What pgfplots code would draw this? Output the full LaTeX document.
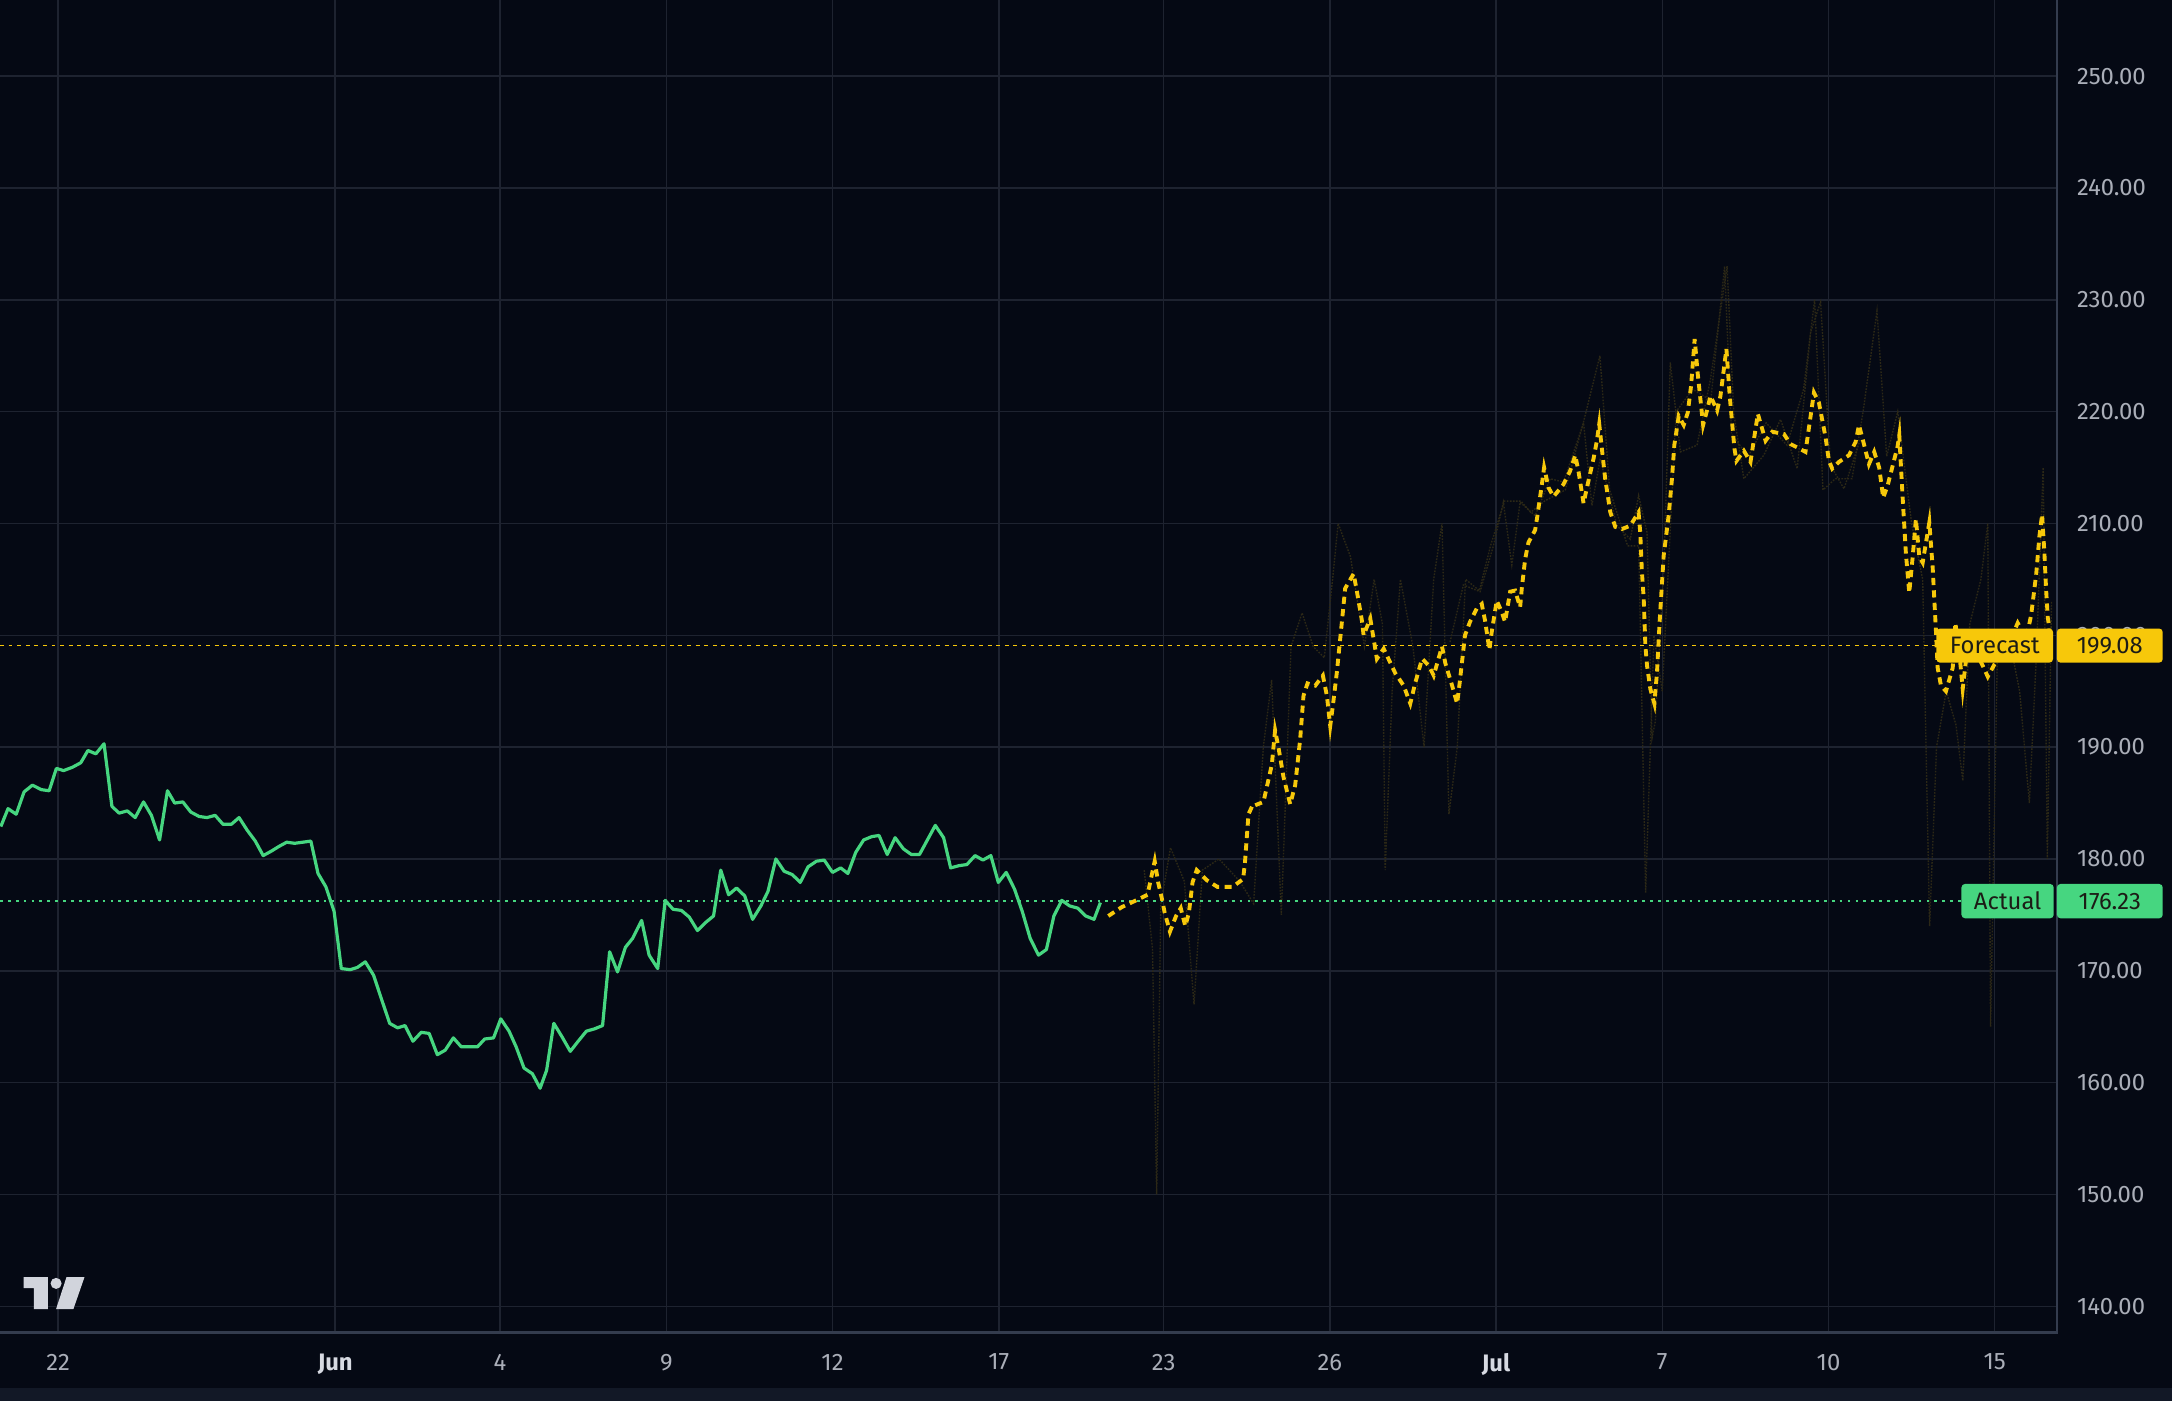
\documentclass[border=0pt]{standalone}
\usepackage{fontspec}
\setmainfont{Fira Sans}
\usepackage{pgfplots}
\pgfplotsset{compat=1.18}
\definecolor{bgcol}{RGB}{5,9,20}
\definecolor{bandcol}{RGB}{18,24,38}
\definecolor{gridcol}{RGB}{30,35,48}
\definecolor{axiscol}{RGB}{52,60,78}
\definecolor{ticktext}{RGB}{170,174,184}
\definecolor{monthtext}{RGB}{215,218,226}
\definecolor{tvgreen}{RGB}{70,214,128}
\definecolor{tvyellow}{RGB}{247,200,10}
\definecolor{faintcol}{RGB}{44,40,22}
\definecolor{boxtext}{RGB}{28,28,22}
\definecolor{logocol}{RGB}{209,212,220}
\begin{document}
\begin{tikzpicture}[x=0.5pt,y=0.5pt]
\useasboundingbox (0,-49) rectangle (1568,962);
\fill[bgcol] (-10,-60) rectangle (1580,975);
\fill[bandcol] (-10,-60) rectangle (1580,-40);
\begin{axis}[
 at={(0,0)}, anchor=south west,
 scale only axis, width=742.5pt, height=481pt,
 xmin=0, xmax=1485, ymin=137.65, ymax=256.81,
 axis line style={draw=none},
 clip=false,
 xtick={42,242,361,481,601,721,840,960,1080,1200,1320,1440},
 xticklabels={22,{\textcolor{monthtext}{\bfseries Jun}},4,9,12,17,23,26,{\textcolor{monthtext}{\bfseries Jul}},7,10,15},
 ytick={140,150,160,170,180,190,200,210,220,230,240,250},
 yticklabel pos=right,
 major tick length=0pt,
 grid=major,
 major grid style={draw=gridcol, line width=0.55pt},
 xticklabel style={font=\fontsize{8.6}{10}\selectfont, text=ticktext, anchor=north, inner sep=0pt, yshift=-7.5pt},
 yticklabel style={font=\fontsize{8.6}{10}\selectfont, text=ticktext, anchor=west, inner sep=0pt, xshift=7pt},
 /pgf/number format/fixed,
 /pgf/number format/fixed zerofill,
 /pgf/number format/precision=2,
 /pgf/number format/assume math mode=true,
]
% faint forecast bands
\addplot[faintcol, line width=0.5pt, dash pattern=on 0.6pt off 0.5pt] coordinates {
(826,179) (832,172) (835,150) (838,176) (845,181) (855,178) (862,167) (868,179) (880,180) (895,178) (905,176) (912,190) (918,196) (925,175) (932,199) (940,202) (948,199) (956,198) (962,205) (966,210) (975,207) (985,199) (992,205) (998,201) (1000,179) (1005,195) (1011,205) (1020,199) (1028,190) (1035,205) (1041,210) (1046,184) (1052,190) (1058,205) (1068,204) (1076,208) (1086,212) (1098,212) (1105,211) (1115,212) (1130,213) (1143,219) (1155,225) (1162,213) (1175,208) (1183,208) (1188,177) (1194,200) (1200,195) (1210,220) (1222,222) (1235,221) (1245,233) (1250,218) (1262,216) (1275,219) (1290,217) (1302,222) (1310,230) (1316,213) (1325,214) (1337,214) (1345,220) (1355,229) (1362,216) (1370,220) (1380,210) (1388,205) (1393,174) (1398,190) (1405,195) (1412,192) (1417,187) (1422,201) (1430,205) (1435,210) (1437,165) (1442,199) (1450,200) (1458,195) (1465,185) (1470,198) (1475,215) (1478,180) (1481,203)
};
\addplot[faintcol, line width=0.5pt, dash pattern=on 0.6pt off 0.5pt] coordinates {
(1046.8,199.4) (1056.4,204.5) (1068.5,203.9) (1078.1,208.0) (1085.3,211.9) (1091.4,206.3) (1097.4,211.9) (1108.2,210.7) (1119.1,214.0) (1128.7,213.7) (1143.2,219.0) (1149.2,211.6) (1155.2,215.8) (1160.0,213.4) (1167.3,209.8) (1176.9,208.6) (1182.9,212.5) (1189.0,209.2) (1192.6,190.8) (1195.0,192.3) (1201.0,205.7) (1205.8,224.4) (1213.1,216.4) (1225.1,217.0) (1234.8,222.9) (1246.8,233.0) (1251.6,219.9) (1258.9,214.0) (1273.3,216.1) (1285.4,219.3) (1297.4,214.9) (1307.1,227.1) (1314.3,229.8) (1321.5,215.2) (1331.2,213.1) (1343.2,217.6)
};
% reference lines
\addplot[tvyellow, line width=0.6pt, dash pattern=on 1.4pt off 1.7pt] coordinates {(0,199.08) (1398,199.08)};
\addplot[tvgreen, line width=0.6pt, dash pattern=on 1pt off 1.85pt] coordinates {(0,176.23) (1416,176.23)};
% actual
\addplot[tvgreen, line width=1.15pt, line join=round] coordinates {
(0.6,182.9) (5.8,184.5) (11.7,184.0) (17.4,186.0) (23.4,186.6) (29.8,186.2) (35.5,186.1) (40.7,188.1) (45.9,187.9) (52.3,188.2) (58.3,188.6) (63.5,189.7) (69.2,189.4) (75.1,190.3) (80.8,184.7) (86.0,184.1) (91.9,184.3) (97.6,183.7) (103.6,185.1) (109.3,183.9) (115.2,181.7) (120.9,186.1) (126.1,185.0) (132.0,185.1) (137.7,184.2) (143.7,183.8) (149.4,183.7) (155.3,183.9) (161.0,183.1) (167.0,183.1) (172.6,183.7) (178.3,182.6) (184.3,181.6) (190.0,180.3) (195.9,180.7) (201.1,181.1) (207.0,181.5) (212.7,181.4) (218.7,181.5) (224.4,181.6) (229.6,178.7) (235.3,177.5) (241.2,175.3) (246.4,170.2) (252.8,170.1) (258.0,170.3) (263.7,170.8) (269.7,169.6) (275.6,167.4) (281.3,165.3) (287.0,164.9) (292.4,165.1) (298.1,163.7) (304.1,164.5) (309.8,164.4) (315.7,162.5) (321.4,162.9) (327.3,164.0) (333.0,163.2) (339.0,163.2) (344.7,163.2) (349.9,163.9) (356.3,164.0) (361.5,165.7) (367.5,164.6) (372.6,163.2) (378.3,161.3) (384.3,160.8) (389.9,159.5) (394.6,161.1) (399.8,165.3) (405.7,164.1) (411.7,162.8) (417.4,163.7) (423.3,164.6) (429.0,164.8) (435.0,165.1) (440.1,171.7) (445.8,169.9) (451.5,172.1) (456.7,172.9) (463.2,174.5) (468.6,171.4) (474.8,170.2) (480.2,176.3) (485.9,175.5) (491.9,175.4) (497.6,174.8) (503.5,173.6) (509.2,174.3) (515.1,174.9) (520.3,179.0) (526.0,176.8) (531.7,177.4) (537.6,176.7) (543.3,174.6) (549.3,175.8) (554.4,177.1) (560.1,180.0) (566.1,178.9) (572.0,178.6) (577.7,177.9) (583.4,179.3) (589.4,179.8) (595.0,179.9) (601.0,178.8) (606.9,179.2) (612.1,178.7) (617.8,180.6) (623.5,181.7) (629.4,182.0) (634.6,182.1) (640.5,180.4) (646.2,181.9) (652.2,180.9) (657.9,180.4) (663.8,180.4) (669.5,181.7) (675.2,183.0) (681.2,181.9) (686.3,179.2) (692.3,179.4) (698.0,179.5) (703.9,180.3) (709.6,179.9) (715.3,180.3) (720.7,177.9) (726.4,178.8) (732.4,177.3) (738.0,175.3) (743.7,172.9) (749.7,171.4) (755.4,171.9) (760.8,174.9) (766.5,176.3) (772.2,175.8) (778.1,175.6) (783.8,174.9) (789.8,174.6) (794.4,176.1)
};
% forecast
\addplot[tvyellow, line width=1.4pt, dash pattern=on 2.6pt off 1.9pt] coordinates {
(800.1,174.9) (809.9,175.7) (820.2,176.3) (828.4,176.8) (833.6,179.8) (836.1,177.9) (838.7,176.5) (840.8,175.2) (844.6,173.5) (849.0,174.9) (852.4,175.6) (855.7,174.0) (858.3,175.2) (860.9,177.9) (863.9,179.0) (871.2,178.1) (878.9,177.5) (889.7,177.5) (897.4,178.2) (898.7,179.6) (901.3,184.0) (904.6,184.9) (906.1,184.8) (912.1,185.1) (918.1,188.4) (920.5,191.5) (922.9,190.0) (926.6,187.3) (931.4,184.9) (935.0,186.6) (938.6,190.7) (941.0,194.6) (943.9,195.7) (949.5,195.5) (955.0,196.4) (957.9,194.6) (960.3,191.9) (962.2,193.7) (965.1,196.7) (968.0,200.3) (971.1,204.2) (977.2,205.5) (979.6,203.9) (983.2,201.3) (984.4,200.0) (989.2,201.5) (994.0,197.9) (998.9,198.8) (1007.3,196.6) (1013.3,195.5) (1018.1,193.9) (1021.8,195.8) (1026.6,197.9) (1031.4,197.3) (1035.0,196.4) (1041.0,199.0) (1043.4,197.5) (1048.3,195.5) (1051.9,193.9) (1053.8,195.8) (1057.6,200.0) (1061.2,201.2) (1066.1,202.4) (1069.7,202.8) (1072.1,201.3) (1075.2,198.7) (1076.9,200.3) (1080.5,203.1) (1084.1,202.1) (1086.5,201.2) (1090.2,203.9) (1093.8,204.0) (1097.4,202.5) (1098.6,204.2) (1101.0,206.8) (1103.4,208.3) (1108.2,209.4) (1109.9,210.7) (1113.1,213.5) (1114.7,215.0) (1117.9,213.2) (1121.5,212.4) (1128.7,213.5) (1133.5,214.7) (1137.2,216.1) (1139.6,214.6) (1143.2,211.8) (1145.6,213.2) (1150.4,215.8) (1152.8,217.4) (1154.5,218.9) (1156.4,216.7) (1158.8,214.0) (1162.5,211.0) (1166.1,209.7) (1170.9,209.5) (1176.9,209.8) (1182.9,211.0) (1184.1,209.2) (1185.3,205.7) (1186.6,203.3) (1187.8,199.1) (1189.0,197.3) (1191.4,195.2) (1194.3,193.9) (1196.2,196.7) (1198.1,201.2) (1201.0,207.1) (1204.6,210.7) (1207.0,214.0) (1208.7,217.0) (1211.9,219.6) (1215.5,218.8) (1218.4,219.9) (1220.8,222.3) (1223.4,226.5) (1225.6,223.4) (1229.5,218.8) (1232.3,220.1) (1234.8,221.4) (1239.6,220.1) (1242.0,221.4) (1246.3,225.6) (1248.7,221.4) (1252.1,216.7) (1253.6,215.6) (1258.9,216.5) (1263.7,215.5) (1269.0,219.8) (1274.6,217.4) (1279.4,218.2) (1287.8,218.0) (1292.6,217.1) (1297.4,216.8) (1303.4,216.4) (1307.1,219.6) (1309.5,221.7) (1313.1,220.8) (1317.9,217.7) (1320.3,215.6) (1322.7,214.9) (1327.5,215.5) (1334.8,216.1) (1339.6,217.3) (1342.0,218.8) (1345.6,217.1) (1349.2,215.3) (1353.0,216.4) (1356.6,215.0) (1359.5,212.3) (1362.7,213.4) (1369.9,216.9) (1371.1,217.9) (1373.5,212.4) (1375.9,207.3) (1378.3,203.8) (1380.7,206.9) (1383.1,210.4) (1385.6,207.0) (1388.0,206.5) (1392.8,210.1) (1395.2,206.1) (1397.6,200.3) (1398.8,197.1) (1401.2,195.5) (1404.8,195.0) (1409.7,197.1) (1411.6,201.1) (1414.5,198.4) (1416.9,195.2) (1419.3,197.8) (1424.1,199.0) (1431.3,197.3) (1435.0,196.3) (1439.8,197.4) (1448.2,198.7) (1456.6,201.1) (1462.7,199.7) (1466.3,201.8) (1469.9,205.4) (1472.3,208.9) (1474.2,210.8) (1475.9,207.3) (1477.1,204.1) (1478.3,201.6) (1479.5,200.6)
};
\draw[axiscol, line width=0.8pt] (rel axis cs:0,0) -- (rel axis cs:1,0) -- (rel axis cs:1,1);
\coordinate (fc) at (axis cs:1482.5,199.08);
\coordinate (fv) at (axis cs:1484.5,199.08);
\coordinate (ac) at (axis cs:1483,176.23);
\coordinate (av) at (axis cs:1484.5,176.23);
\end{axis}
% price labels
\node[fill=tvyellow, rounded corners=1.3pt, anchor=east, minimum width=42.1pt, minimum height=12.3pt, inner sep=0pt, text=boxtext, font=\fontsize{8.6}{10}\selectfont] at (fc) {Forecast};
\node[fill=tvyellow, rounded corners=1.3pt, anchor=west, minimum width=38.2pt, minimum height=12.3pt, inner sep=0pt, text=boxtext, font=\fontsize{8.6}{10}\selectfont] at (fv) {199.08};
\node[fill=tvgreen, rounded corners=1.3pt, anchor=east, minimum width=33.3pt, minimum height=12.4pt, inner sep=0pt, text=boxtext, font=\fontsize{8.6}{10}\selectfont] at (ac) {Actual};
\node[fill=tvgreen, rounded corners=1.3pt, anchor=west, minimum width=38.2pt, minimum height=12.4pt, inner sep=0pt, text=boxtext, font=\fontsize{8.6}{10}\selectfont] at (av) {176.23};
% logo
\fill[logocol] (17,40) -- (34.5,40) -- (34.5,17) -- (24.5,17) -- (24.5,32) -- (17,32) -- cycle;
\fill[logocol] (40.5,35.5) circle (4);
\fill[logocol] (48,40) -- (61,40) -- (53,17) -- (40.5,17) -- cycle;
\end{tikzpicture}
\end{document}
